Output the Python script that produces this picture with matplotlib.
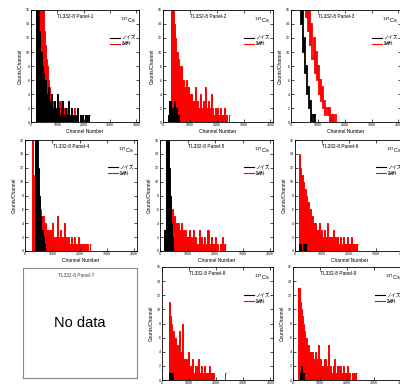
import numpy as np
import matplotlib
matplotlib.use("Agg")
import matplotlib.pyplot as plt

plt.rcParams['font.family'] = ['Liberation Sans', 'Noto Sans CJK JP', 'DejaVu Sans']

W, H = 400, 384
BIN = 40  # channels per bin

panel_names = ["TL332-8 Panel-1", "TL332-8 Panel-2", "TL332-8 Panel-3",
               "TL332-8 Panel-4", "TL332-8 Panel-5", "TL332-8 Panel-6",
               "TL332-8 Panel-7", "TL332-8 Panel-8", "TL332-8 Panel-9"]
x_ticks = [0, 1000, 2000, 3000, 4000]
y_ticks = [0, 2, 4, 6, 8, 10, 12, 14, 16]
legend_labels = ["ノイズ", "試料"]

# counts per 40-channel bin: (start channel, counts)
noise_1 = (200, [30, 22, 17, 13, 10, 8, 7, 5, 6, 4, 3, 5, 2, 3, 4, 2, 1, 3, 2, 1, 4, 2, 1, 2, 3,
                 1, 1, 2, 0, 1, 3, 1, 0, 2, 1, 0, 1, 1, 0, 2, 0, 1, 0, 1, 0, 0, 1, 0, 1, 0, 1])
sample_1 = (160, [0, 20, 0, 0, 0, 22, 19, 16, 13, 11, 9, 8, 6, 5, 4, 4, 3, 2, 3, 2, 1, 2, 1, 3, 1,
                  1, 2, 1, 0, 1, 2, 1, 1, 0, 1, 1, 0, 2, 1, 0, 1, 0, 1, 1, 0, 1])
noise_2 = (200, [1, 3, 2, 1, 2, 3, 1, 2, 1, 0, 1])
sample_2 = (240, [0, 25, 21, 17, 14, 12, 10, 10, 9, 8, 7, 8, 6, 6, 5, 6, 4, 5, 3, 4, 4, 3, 2, 3, 5,
                  2, 3, 2, 4, 2, 1, 3, 2, 5, 1, 2, 3, 2, 1, 4, 2, 1, 2, 1, 2, 1, 1, 2, 1, 1, 1, 2,
                  1, 1, 0, 1])
noise_3 = (240, [24, 18, 21, 14, 16, 10, 12, 7, 8, 4, 5, 2, 3, 0, 1, 0, 1])
sample_3 = (440, [21, 17, 20, 15, 18, 13, 16, 11, 14, 9, 12, 7, 10, 6, 8, 4, 6, 3, 5, 2, 3, 1, 2,
                  1, 2, 0, 1, 0, 1, 0, 0, 1])
noise_4 = (360, [22, 20, 18, 12, 8, 5, 3, 2, 1, 1])
sample_4 = (200, [0, 20, 11, 10, 9, 8, 8, 7, 6, 6, 5, 5, 4, 4, 3, 3, 3, 2, 3, 2, 4, 2, 1, 2, 5,
                  1, 2, 3, 1, 2, 1, 4, 2, 1, 2, 1, 1, 2, 1, 1, 2, 1, 1, 2, 1, 1, 0, 1, 1, 1, 0, 1,
                  1, 0, 1])
noise_5 = (160, [3, 25, 22, 18, 12, 8, 4, 2, 1])
sample_5 = (160, [0, 10, 9, 8, 8, 7, 6, 6, 5, 5, 4, 4, 4, 3, 3, 4, 3, 2, 3, 3, 2, 2, 3, 1, 2,
                  1, 3, 1, 2, 1, 1, 3, 1, 2, 1, 1, 2, 1, 1, 3, 1, 1, 2, 1, 1, 1, 2, 1, 1, 0, 1, 1,
                  2, 1, 0, 1])
noise_6 = (160, [1, 1, 0, 1, 1, 0, 1])
sample_6 = (120, [0, 14, 12, 11, 10, 9, 9, 8, 7, 7, 6, 6, 5, 5, 4, 4, 4, 3, 3, 4, 2, 3, 2, 2, 3,
                  1, 2, 4, 1, 2, 2, 1, 3, 1, 2, 1, 2, 1, 1, 2, 1, 1, 2, 1, 1, 2, 1, 1, 1, 2, 1, 1,
                  1, 0, 1, 1])
noise_8 = (240, [1, 1, 0, 1, 1])
sample_8 = (200, [0, 11, 9, 8, 7, 7, 6, 6, 5, 5, 4, 7, 4, 8, 3, 3, 2, 3, 2, 4, 2, 1, 2, 3, 1,
                  2, 1, 2, 3, 1, 1, 2, 1, 1, 2, 1, 1, 1, 2, 1, 1, 1, 1, 0, 0, 0, 0, 0, 0, 0, 0, 0,
                  0, 1])
noise_9 = (240, [1, 2, 1, 0, 1])
sample_9 = (160, [0, 13, 11, 10, 9, 8, 7, 6, 6, 5, 5, 4, 4, 4, 3, 3, 4, 2, 3, 5, 2, 3, 1, 2, 2,
                  3, 1, 2, 5, 1, 2, 1, 1, 2, 3, 1, 1, 2, 1, 2, 1, 1, 2, 1, 1, 1, 2, 1, 1, 0, 1, 1,
                  1, 0, 1])

series = [(noise_1, sample_1), (noise_2, sample_2), (noise_3, sample_3),
          (noise_4, sample_4), (noise_5, sample_5), (noise_6, sample_6),
          None, (noise_8, sample_8), (noise_9, sample_9)]
# panel 3 is a narrow band with nothing under it, others look solid
filled = [True, True, False, True, True, True, False, True, True]

# axes boxes in pixels: left, top, width, height
boxes = [(31, 10, 108, 112), (163, 10, 110, 112), (291, 10, 110, 112),
         (25, 140, 112, 111), (160, 140, 113, 111), (295, 140, 110, 111),
         (23, 268, 114, 110), (162, 267, 111, 113), (293, 267, 111, 113)]

fig = plt.figure(figsize=(W / 100, H / 100), dpi=100)


def stairs(ax, data, color, fill):
    start, counts = data
    counts = np.array(counts)
    edges = start + BIN * np.arange(len(counts) + 1)
    if fill:
        ax.stairs(counts, edges, color=color, fill=True, lw=0)
        ax.stairs(counts, edges, color=color, lw=0.7, baseline=None)
    else:
        ax.stairs(counts, edges, color=color, lw=1.3, baseline=None)


for i, (l, t, w, h) in enumerate(boxes):
    ax = fig.add_axes([l / W, 1 - (t + h) / H, w / W, h / H])
    if series[i] is None:
        ax.set_xticks([])
        ax.set_yticks([])
        for s in ax.spines.values():
            s.set_color("#888888")
            s.set_linewidth(0.8)
        ax.text(0.47, 0.93, panel_names[i], transform=ax.transAxes, ha="center",
                va="center", fontsize=3.5, color="#444444")
        ax.text(0.5, 0.5, "No data", transform=ax.transAxes, ha="center",
                va="center", fontsize=10.5)
        continue
    noise, sample = series[i]
    stairs(ax, sample, "#ff0000", filled[i])
    stairs(ax, noise, "black", filled[i])
    ax.set_xlim(0, 4096)
    ax.set_ylim(0, 16)
    ax.set_xticks(x_ticks)
    ax.set_yticks(y_ticks)
    ax.tick_params(direction="in", top=True, right=True, length=2, width=0.5,
                   labelsize=2.5, pad=1)
    for s in ax.spines.values():
        s.set_linewidth(0.6)
    ax.set_xlabel("Channel Number", fontsize=3.5, labelpad=1)
    ax.set_ylabel("Counts/Channel", fontsize=3.5, labelpad=2)
    ax.text(0.41, 0.94, panel_names[i], transform=ax.transAxes, ha="center",
            va="center", fontsize=3.5)
    ax.text(0.9, 0.91, "$^{137}$Cs", transform=ax.transAxes, ha="center",
            va="center", fontsize=4)
    h1, = ax.plot([], [], color="black", lw=0.8)
    h2, = ax.plot([], [], color="#ff0000", lw=0.8)
    ax.legend([h1, h2], legend_labels, loc="upper right", bbox_to_anchor=(1.0, 0.8),
              frameon=False, fontsize=3.5, handlelength=2, handletextpad=0.4,
              labelspacing=0.2, borderaxespad=0.2)

fig.savefig("out.png", dpi=100)
